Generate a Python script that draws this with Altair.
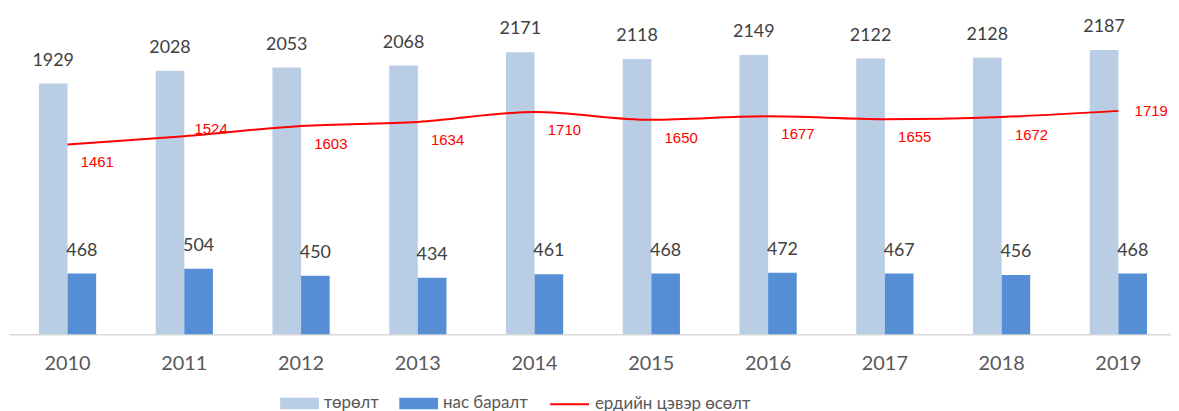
import altair as alt
import pandas as pd

years = ["2010", "2011", "2012", "2013", "2014", "2015", "2016", "2017", "2018", "2019"]
births = [1929, 2028, 2053, 2068, 2171, 2118, 2149, 2122, 2128, 2187]
deaths = [468, 504, 450, 434, 461, 468, 472, 467, 456, 468]
natural = [1461, 1524, 1603, 1634, 1710, 1650, 1677, 1655, 1672, 1719]

s_birth = "төрөлт"
s_death = "нас баралт"
s_nat = "ердийн цэвэр өсөлт"

bars_df = pd.DataFrame(
    [{"year": y, "series": s_birth, "value": v} for y, v in zip(years, births)]
    + [{"year": y, "series": s_death, "value": v} for y, v in zip(years, deaths)]
)
line_df = pd.DataFrame({"year": years, "value": natural, "series": s_nat})

xscale = alt.Scale(paddingInner=0.51, paddingOuter=0.231, align=0.555)
yscale = alt.Scale(domain=[0, 2500])
x = alt.X("year:N", scale=xscale, title=None,
          axis=alt.Axis(labelAngle=0, ticks=False, domainColor="#D9D9D9", domainWidth=1.5,
                        labelFont="Lato", labelFontSize=20, labelColor="#595959",
                        labelPadding=20, grid=False))
y = alt.Y("value:Q", scale=yscale, axis=None)
xoff = alt.XOffset("series:N", sort=[s_birth, s_death], scale=alt.Scale(paddingInner=0, paddingOuter=0))

bars = alt.Chart(bars_df).mark_bar().encode(
    x=x, y=y, xOffset=xoff,
    color=alt.Color("series:N", scale=alt.Scale(domain=[s_birth, s_death], range=["#B9CDE5", "#558ED5"]),
                    legend=alt.Legend(title=None, orient="none", legendX=273, legendY=377,
                                      direction="horizontal", symbolType="M-1,-0.3L1,-0.3L1,0.3L-1,0.3Z",
                                      symbolSize=1521, symbolStrokeWidth=0, labelFont="Lato",
                                      labelFontSize=17, labelColor="#595959", labelOffset=5,
                                      columnPadding=20, padding=0)),
)

bar_labels = alt.Chart(bars_df).mark_text(
    font="Lato", fontSize=18, color="#404040", baseline="alphabetic", dy=-18
).encode(x=x, y=y, xOffset=xoff, text="value:Q")

line = alt.Chart(line_df).mark_line(interpolate="monotone", strokeWidth=2).encode(
    x=x, y=y,
    stroke=alt.Stroke("series:N", scale=alt.Scale(domain=[s_nat], range=["#FF0000"]),
                      legend=alt.Legend(title=None, orient="none", legendX=544, legendY=377,
                                        symbolType="stroke", symbolSize=1521, symbolStrokeWidth=2,
                                        labelFont="Lato", labelFontSize=17, labelColor="#595959",
                                        labelOffset=5, padding=0)),
)

red_style = dict(font="Liberation Sans", fontSize=15, color="#FF0000")
lab_below = alt.Chart(line_df).transform_filter(
    "datum.year != '2011' && datum.year != '2019'"
).mark_text(dx=30, dy=18, **red_style).encode(x=x, y=y, text="value:Q")
lab_above = alt.Chart(line_df).transform_filter("datum.year == '2011'").mark_text(
    dx=27, dy=-7, **red_style).encode(x=x, y=y, text="value:Q")
lab_right = alt.Chart(line_df).transform_filter("datum.year == '2019'").mark_text(
    dx=33, dy=0, **red_style).encode(x=x, y=y, text="value:Q")

chart = alt.layer(bars, bar_labels, line, lab_below, lab_above, lab_right).properties(
    width=1170, height=327,
    padding={"left": 1, "top": 0, "right": 0, "bottom": 10},
).resolve_scale(color="independent", stroke="independent").configure_view(stroke=None)

chart.save("out.html", embed_options={"renderer": "svg", "actions": False})
